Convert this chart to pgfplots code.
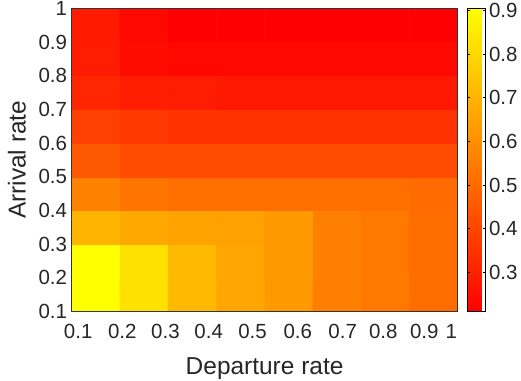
\documentclass[border=0pt]{standalone}
\usepackage{pgfplots}
\pgfplotsset{compat=1.18}
\usepackage{fontspec}
\setmainfont{Liberation Sans}
\begin{document}
\begin{tikzpicture}
\begin{axis}[
  name=main,
  scale only axis,
  width=386.7pt, height=303.7pt,
  xmin=0.1, xmax=1, ymin=0.1, ymax=1,
  axis line style={draw=black!80, line width=0.8pt},
  xtick={0.1154,0.2182,0.3188,0.4196,0.5220,0.6274,0.7321,0.8268,0.9223,0.9851},
  xticklabels={0.1,0.2,0.3,0.4,0.5,0.6,0.7,0.8,0.9,1},
  ytick={0.1,0.2,0.3,0.4,0.5,0.6,0.7,0.8,0.9,1},
  yticklabels={0.1,0.2,0.3,0.4,0.5,0.6,0.7,0.8,0.9,1},
  major tick length=0pt,
  tick label style={font=\fontsize{20.5}{24}\selectfont, text=black!85},
  label style={font=\fontsize{24.5}{28}\selectfont, text=black!85},
  xlabel={Departure rate}, ylabel={Arrival rate},
  xticklabel style={yshift=-9pt},
  xlabel style={yshift=-12.5pt},
  ylabel style={yshift=6pt},
  yticklabel style={xshift=-1pt},
  /pgf/number format/assume math mode=true,
  colormap={autumn}{rgb255=(255,0,0) rgb255=(255,255,0)},
  point meta min=0.21, point meta max=0.905,
  colorbar,
  colorbar style={
    width=18.4pt,
    at={(parent axis.north east)}, anchor=north west, xshift=1pt,
    ytick={0.3,0.4,0.5,0.6,0.7,0.8,0.9},
    yticklabels={0.3,0.4,0.5,0.6,0.7,0.8,0.9},
    major tick length=3pt,
    tick style={draw=black, line width=0.6pt},
    axis line style={draw=black, line width=0.8pt},
    yticklabel style={font=\fontsize{20.5}{24}\selectfont, text=black!85},
    /pgf/number format/assume math mode=true,
  },
  axis on top,
]
\addplot[matrix plot*, mesh/cols=8, point meta=explicit] table[meta=c] {
x y c
0.15625 0.15 0.905
0.26875 0.15 0.820
0.38125 0.15 0.712
0.49375 0.15 0.662
0.60625 0.15 0.624
0.71875 0.15 0.553
0.83125 0.15 0.537
0.94375 0.15 0.504
0.15625 0.25 0.905
0.26875 0.25 0.820
0.38125 0.25 0.712
0.49375 0.25 0.662
0.60625 0.25 0.624
0.71875 0.25 0.553
0.83125 0.25 0.537
0.94375 0.25 0.504
0.15625 0.35 0.701
0.26875 0.35 0.668
0.38125 0.35 0.651
0.49375 0.35 0.646
0.60625 0.35 0.624
0.71875 0.35 0.553
0.83125 0.35 0.537
0.94375 0.35 0.504
0.15625 0.45 0.559
0.26875 0.45 0.526
0.38125 0.45 0.510
0.49375 0.45 0.510
0.60625 0.45 0.510
0.71875 0.45 0.510
0.83125 0.45 0.510
0.94375 0.45 0.499
0.15625 0.55 0.450
0.26875 0.55 0.417
0.38125 0.55 0.417
0.49375 0.55 0.417
0.60625 0.55 0.417
0.71875 0.55 0.417
0.83125 0.55 0.417
0.94375 0.55 0.412
0.15625 0.65 0.384
0.26875 0.65 0.363
0.38125 0.65 0.346
0.49375 0.65 0.346
0.60625 0.65 0.346
0.71875 0.65 0.346
0.83125 0.65 0.346
0.94375 0.65 0.346
0.15625 0.75 0.314
0.26875 0.75 0.292
0.38125 0.75 0.286
0.49375 0.75 0.275
0.60625 0.75 0.275
0.71875 0.75 0.275
0.83125 0.75 0.275
0.94375 0.75 0.275
0.15625 0.85 0.286
0.26875 0.85 0.243
0.38125 0.85 0.232
0.49375 0.85 0.232
0.60625 0.85 0.232
0.71875 0.85 0.232
0.83125 0.85 0.232
0.94375 0.85 0.232
0.15625 0.95 0.281
0.26875 0.95 0.232
0.38125 0.95 0.210
0.49375 0.95 0.210
0.60625 0.95 0.210
0.71875 0.95 0.210
0.83125 0.95 0.210
0.94375 0.95 0.210
};
\end{axis}
\pgfresetboundingbox
\path ([shift={(-71.7pt,-69pt)}]main.south west) rectangle ([shift={(63.5pt,8.3pt)}]main.north east);
\end{tikzpicture}
\end{document}
